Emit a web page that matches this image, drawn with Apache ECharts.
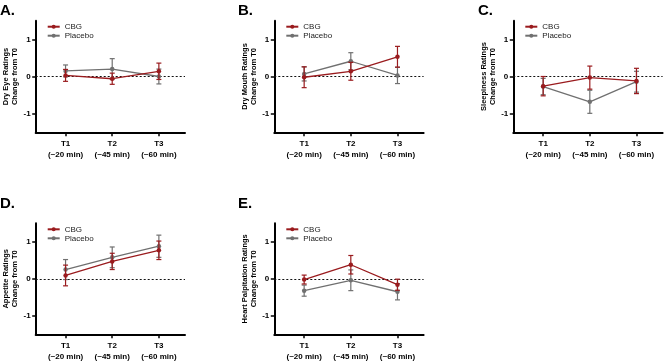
<!DOCTYPE html>
<html>
<head>
<meta charset="utf-8">
<script src="https://cdn.jsdelivr.net/npm/echarts@6/dist/echarts.min.js"></script>
<style>html,body{margin:0;padding:0;background:#fff}#c{width:668px;height:361px}</style>
</head>
<body>
<div id="c"></div>
<script>
// ---- data ----
const timeLabels = ['T1\n(~20 min)', 'T2\n(~45 min)', 'T3\n(~60 min)'];
const timeValues = [1, 2, 3];
const yTicks = [-1, 0, 1];
const panelLetters = ['A.', 'B.', 'C.', 'D.', 'E.'];
const yTitles = [
  'Dry Eye Ratings\nChange from T0',
  'Dry Mouth Ratings\nChange from T0',
  'Sleepiness Ratings\nChange from T0',
  'Appetite Ratings\nChange from T0',
  'Heart Palpitation Ratings\nChange from T0'
];
const seriesNames = ['CBG', 'Placebo'];

const dryEyeCBG = [0.03, -0.06, 0.14];
const dryEyeCBGErr = [0.16, 0.15, 0.22];
const dryEyePlacebo = [0.15, 0.20, 0.00];
const dryEyePlaceboErr = [0.16, 0.28, 0.20];

const dryMouthCBG = [-0.02, 0.14, 0.53];
const dryMouthCBGErr = [0.28, 0.24, 0.28];
const dryMouthPlacebo = [0.07, 0.41, 0.03];
const dryMouthPlaceboErr = [0.19, 0.23, 0.22];

const sleepCBG = [-0.26, -0.03, -0.12];
const sleepCBGErr = [0.26, 0.31, 0.34];
const sleepPlacebo = [-0.27, -0.68, -0.14];
const sleepPlaceboErr = [0.22, 0.31, 0.28];

const appetiteCBG = [0.09, 0.47, 0.77];
const appetiteCBGErr = [0.28, 0.22, 0.25];
const appetitePlacebo = [0.25, 0.58, 0.88];
const appetitePlaceboErr = [0.27, 0.28, 0.30];

const heartCBG = [-0.02, 0.38, -0.16];
const heartCBGErr = [0.12, 0.25, 0.15];
const heartPlacebo = [-0.32, -0.04, -0.35];
const heartPlaceboErr = [0.15, 0.28, 0.22];

const panelData = [
  [dryEyeCBG, dryEyeCBGErr, dryEyePlacebo, dryEyePlaceboErr],
  [dryMouthCBG, dryMouthCBGErr, dryMouthPlacebo, dryMouthPlaceboErr],
  [sleepCBG, sleepCBGErr, sleepPlacebo, sleepPlaceboErr],
  [appetiteCBG, appetiteCBGErr, appetitePlacebo, appetitePlaceboErr],
  [heartCBG, heartCBGErr, heartPlacebo, heartPlaceboErr]
];

// ---- layout / style ----
const RED = '#9a1b1e';
const GRAY = '#707070';
const FONT = 'Liberation Sans, Arial, sans-serif';
const layout = [
  {left: 35.7, top: 20.7, h: 111.6, tx: 0, ty: 3},
  {left: 274.3, top: 20.7, h: 111.6, tx: 238, ty: 3},
  {left: 513.3, top: 20.7, h: 111.6, tx: 478, ty: 3},
  {left: 35.7, top: 223.3, h: 111, tx: 0, ty: 196},
  {left: 274.3, top: 223.3, h: 111, tx: 238, ty: 196}
];
const GW = 149.3;

function renderErr(params, api) {
  const x = api.value(0), lo = api.value(1), hi = api.value(2);
  const p1 = api.coord([x, lo]), p2 = api.coord([x, hi]);
  const w = 2.5;
  const style = {stroke: api.visual('color'), lineWidth: 1.2};
  return {type: 'group', children: [
    {type: 'line', shape: {x1: p1[0], y1: p1[1], x2: p2[0], y2: p2[1]}, style: style},
    {type: 'line', shape: {x1: p1[0] - w, y1: p1[1], x2: p1[0] + w, y2: p1[1]}, style: style},
    {type: 'line', shape: {x1: p2[0] - w, y1: p2[1], x2: p2[0] + w, y2: p2[1]}, style: style}
  ]};
}

const grid = [], xAxis = [], yAxis = [], series = [], legend = [], title = [];
layout.forEach((L, i) => {
  grid.push({left: L.left, top: L.top, width: GW, height: L.h, containLabel: false, outerBoundsMode: 'none'});
  xAxis.push({
    type: 'value', gridIndex: i, min: 0.36, max: 3.56,
    splitLine: {show: false},
    axisLine: {show: true, onZero: false, lineStyle: {color: '#000', width: 2}},
    axisTick: {show: true, customValues: timeValues, length: 4, lineStyle: {color: '#000', width: 1.5}},
    axisLabel: {customValues: timeValues, formatter: v => timeLabels[timeValues.indexOf(v)],
      fontFamily: FONT, fontWeight: 'bold', fontSize: 8, color: '#000', lineHeight: 11, margin: 6}
  });
  yAxis.push({
    type: 'value', gridIndex: i, min: -1.5, max: 1.5,
    splitLine: {show: false},
    axisLine: {show: true, onZero: false, lineStyle: {color: '#000', width: 2}},
    axisTick: {show: true, customValues: yTicks, length: 3.5, lineStyle: {color: '#000', width: 1.5}},
    axisLabel: {customValues: yTicks, formatter: v => String(v),
      fontFamily: FONT, fontWeight: 'bold', fontSize: 8, color: '#000', margin: 5},
    name: yTitles[i], nameLocation: 'middle', nameGap: 13.5,
    nameTextStyle: {fontFamily: FONT, fontWeight: 'bold', fontSize: 7.5, color: '#000', lineHeight: 9}
  });
  const d = panelData[i];
  const mk = (vals) => vals.map((v, k) => [timeValues[k], v]);
  const mkErr = (vals, errs) => vals.map((v, k) => [timeValues[k], v - errs[k], v + errs[k]]);
  series.push({
    type: 'custom', name: 'Placebo err', xAxisIndex: i, yAxisIndex: i,
    renderItem: renderErr, itemStyle: {color: GRAY}, encode: {x: 0, y: [1, 2]},
    data: mkErr(d[2], d[3]), z: 2
  });
  series.push({
    type: 'line', name: 'Placebo', xAxisIndex: i, yAxisIndex: i,
    data: mk(d[2]), symbol: 'circle', symbolSize: 4.5,
    lineStyle: {color: GRAY, width: 1.3}, itemStyle: {color: GRAY}, z: 3,
    markLine: {silent: true, symbol: 'none', label: {show: false},
      lineStyle: {color: '#111', type: [2, 2], width: 1}, data: [{yAxis: 0}], z: 1}
  });
  series.push({
    type: 'custom', name: 'CBG err', xAxisIndex: i, yAxisIndex: i,
    renderItem: renderErr, itemStyle: {color: RED}, encode: {x: 0, y: [1, 2]},
    data: mkErr(d[0], d[1]), z: 4
  });
  series.push({
    type: 'line', name: 'CBG', xAxisIndex: i, yAxisIndex: i,
    data: mk(d[0]), symbol: 'circle', symbolSize: 4.5,
    lineStyle: {color: RED, width: 1.3}, itemStyle: {color: RED}, z: 5
  });
  legend.push({
    data: seriesNames, orient: 'vertical', left: L.left + 11, top: L.top + 2,
    itemWidth: 12, itemHeight: 5, itemGap: 1,
    textStyle: {fontFamily: FONT, fontSize: 8, color: '#222', lineHeight: 8, padding: 0},
    padding: 0
  });
  title.push({text: panelLetters[i], left: L.tx, top: L.ty, padding: 0,
    textStyle: {fontFamily: FONT, fontWeight: 'bold', fontSize: 15, color: '#000'}});
});

const chart = echarts.init(document.getElementById('c'), null, {renderer: 'canvas'});
chart.setOption({animation: false, backgroundColor: '#fff', title, grid, xAxis, yAxis, legend, series});
</script>
</body>
</html>
